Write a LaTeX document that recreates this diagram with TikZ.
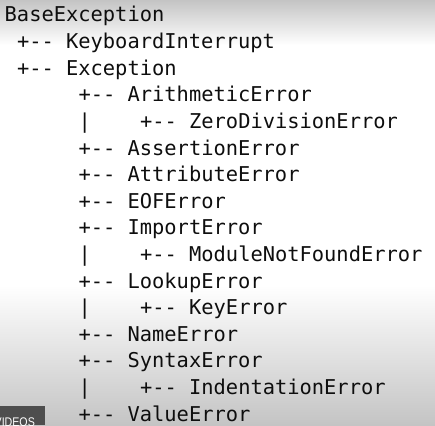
\documentclass[tikz,border=0pt]{standalone}
\usepackage{fontspec}
\setmonofont{DejaVu Sans Mono}
\setsansfont{Liberation Sans}

\definecolor{shadegray}{HTML}{C4C4C4}
\definecolor{ink}{HTML}{0E0E0E}
\definecolor{badge}{HTML}{4E4E4E}

\tikzset{
  code/.style={font=\ttfamily\fontsize{20.4}{24}\selectfont, text=ink, anchor=base west, inner sep=0pt},
  badgetext/.style={font=\sffamily\fontsize{12.5}{14}\selectfont, text=white, anchor=base west, inner sep=0pt}
}

\begin{document}
\begin{tikzpicture}[x=1pt, y=-1pt]
    % Arka plan
    \useasboundingbox (0,0) rectangle (435,425);
    \fill[white] (0,0) rectangle (435,425);
    \shade[top color=shadegray, bottom color=white] (0,0) rectangle (435,45);
    \shade[top color=white, bottom color=shadegray] (0,285) rectangle (435,425);

    % Ust seviye
    \node[code] (base) at (4.5,22) {BaseException};
    \node[code] (kbd) at (16.8,48.6) {+-- KeyboardInterrupt};
    \node[code] (exc) at (16.8,75.2) {+-- Exception};

    % Exception alt siniflari
    \node[code] (arith) at (78.3,101.8) {+-- ArithmeticError};
    \node[code] (pipeA) at (78.3,128.4) {|};
    \node[code] (zero) at (139.8,128.4) {+-- ZeroDivisionError};
    \node[code] (assert) at (78.3,155) {+-- AssertionError};
    \node[code] (attr) at (78.3,181.6) {+-- AttributeError};
    \node[code] (eof) at (78.3,208.2) {+-- EOFError};
    \node[code] (imp) at (78.3,234.8) {+-- ImportError};
    \node[code] (pipeB) at (78.3,261.4) {|};
    \node[code] (module) at (139.8,261.4) {+-- ModuleNotFoundError};
    \node[code] (lookup) at (78.3,288) {+-- LookupError};
    \node[code] (pipeC) at (78.3,314.6) {|};
    \node[code] (key) at (139.8,314.6) {+-- KeyError};
    \node[code] (name) at (78.3,341.2) {+-- NameError};
    \node[code] (syntax) at (78.3,367.8) {+-- SyntaxError};
    \node[code] (pipeD) at (78.3,394.4) {|};
    \node[code] (indent) at (139.8,394.4) {+-- IndentationError};
    \node[code] (value) at (78.3,421) {+-- ValueError};

    % Video etiketi
    \fill[badge] (0,406) rectangle (45,425);
    \node[badgetext] (videos) at (-5.5,426.5) {\scalebox{0.85}[1]{VIDEOS}};
\end{tikzpicture}
\end{document}
